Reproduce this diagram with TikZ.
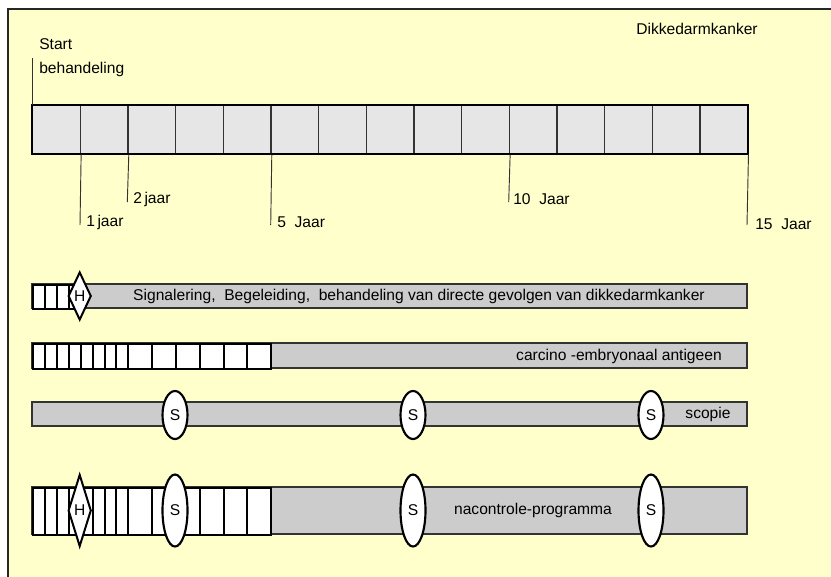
\documentclass[tikz,border=0pt]{standalone}
\usepackage{fontspec}
\setmainfont{Liberation Sans}
\usetikzlibrary{shapes.geometric}
\definecolor{bgyellow}{HTML}{FFFFCC}
\definecolor{cellgray}{HTML}{E6E6E6}
\definecolor{bargray}{HTML}{CCCCCC}
\definecolor{bardraw}{HTML}{333333}
\begin{document}
\begin{tikzpicture}[x=0.75pt,y=-0.75pt,
  every node/.style={font=\fontsize{11.7pt}{13pt}\selectfont},
  tcell/.style={draw=black!80,line width=1.1pt,fill=cellgray,rectangle,minimum width=35.75pt,minimum height=36pt,inner sep=0pt,anchor=north west},
  wcell/.style={draw=black,line width=1.5pt,fill=white,rectangle,inner sep=0pt,anchor=north west},
  gbar/.style={draw=bardraw,line width=1pt,fill=bargray},
  hmark/.style={draw=black,line width=1.5pt,fill=white,diamond,inner sep=0pt,minimum width=17.25pt},
  smark/.style={draw=black,line width=1.6pt,fill=white,ellipse,inner sep=0pt,minimum width=18.75pt},
  tick/.style={draw=black!80,line width=0.7pt},
  lbl/.style={inner sep=0pt,anchor=west}]
\useasboundingbox (0,0) rectangle (831,576);
\fill[white] (0,0) rectangle (831,576);
\draw[fill=bgyellow,draw=black!85,line width=1.6pt] (8,9) rectangle (845,590);

% title
\node[inner sep=0pt] (title) at (697,29) {Dikkedarmkanker};

% timeline cells
\foreach \i in {1,...,15}{
  \node[tcell] (c\i) at ({32+(\i-1)*47.667},105) {};
}
\draw[black,line width=1.5pt] (c1.north west) rectangle (c15.south east);

% ticks and labels
\node[lbl] (start1) at (39,44) {Start};
\node[lbl] (start2) at (39,69) {behandeling};
\coordinate (st) at (32,58);
\draw[tick] (st) -- (c1.north west);

\node[lbl] (y1) at (86,222) {1\,jaar};
\node[lbl] (y2) at (133,199) {2\,jaar};
\node[lbl] (y5) at (277,222) {5\ \ Jaar};
\node[lbl] (y10) at (513,199) {10\ \ Jaar};
\node[lbl] (y15) at (755,224) {15\ \ Jaar};
\coordinate (e1) at (80,225);
\coordinate (e2) at (127.3,202);
\coordinate (e5) at (270.7,225);
\coordinate (e10) at (508.7,202);
\coordinate (e15) at (747,225);
\draw[tick] (c1.south east) -- (e1);
\draw[tick] (c2.south east) -- (e2);
\draw[tick] (c5.south east) -- (e5);
\draw[tick] (c10.south east) -- (e10);
\draw[tick] (c15.south east) -- (e15);

% row 1
\draw[gbar] (32,284) rectangle (747,308);
\foreach \i in {0,...,3}{
  \node[wcell,minimum width=8.94pt,minimum height=18pt] (ra\i) at ({32+\i*11.917},284) {};
}
\node[hmark,minimum height=36pt] (h1) at (79.7,296) {H};
\node (t1) at (419,296) {Signalering,\ \ Begeleiding,\ \ behandeling van directe gevolgen van dikkedarmkanker};

% row 2
\draw[gbar] (32,343) rectangle (747,368);
\foreach \i in {0,...,7}{
  \node[wcell,minimum width=8.94pt,minimum height=18.75pt] (rb\i) at ({32+\i*11.917},343) {};
}
\foreach \i in {0,...,5}{
  \node[wcell,minimum width=17.875pt,minimum height=18.75pt] (rc\i) at ({127.33+\i*23.833},343) {};
}
\node[anchor=east,inner sep=0pt] (t2) at (722,356) {carcino -embryonaal antigeen};

% row 3
\draw[gbar] (32,402) rectangle (747,426);
\node[smark,minimum height=36pt] (s31) at (175,415) {S};
\node[smark,minimum height=36pt] (s32) at (413,415) {S};
\node[smark,minimum height=36pt] (s33) at (651,415) {S};
\node[inner sep=0pt] (t3) at (708,414) {scopie};

% row 4
\draw[gbar] (32,487) rectangle (747,534);
\foreach \i in {0,...,7}{
  \node[wcell,minimum width=8.94pt,minimum height=35.25pt] (rd\i) at ({32+\i*11.917},487) {};
}
\foreach \i in {0,...,5}{
  \node[wcell,minimum width=17.875pt,minimum height=35.25pt] (re\i) at ({127.33+\i*23.833},487) {};
}
\node[hmark,minimum height=54pt] (h4) at (79.7,510.5) {H};
\node[smark,minimum height=54pt] (s41) at (175,510.5) {S};
\node[smark,minimum height=54pt] (s42) at (413,510.5) {S};
\node[smark,minimum height=54pt] (s43) at (651,510.5) {S};
\node (t4) at (533,510) {nacontrole-programma};
\end{tikzpicture}
\end{document}
